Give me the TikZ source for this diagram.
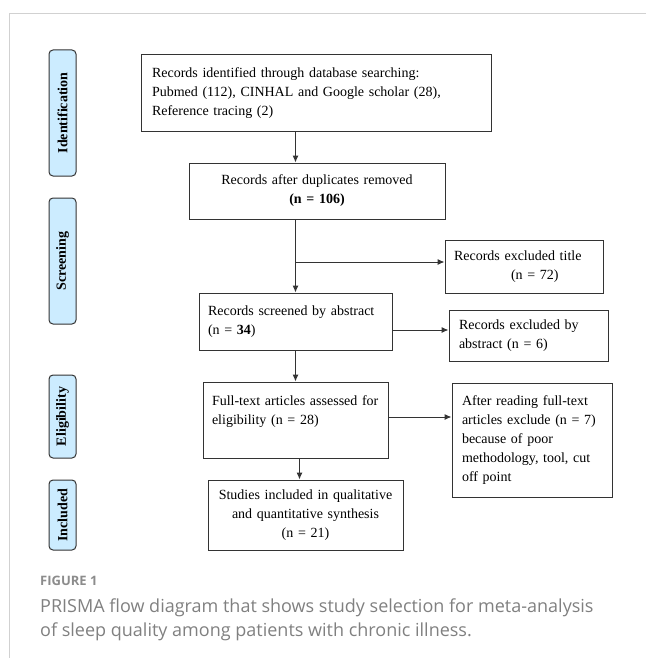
\documentclass[tikz,border=0pt]{standalone}
\usepackage{fontspec}
\setmainfont{Liberation Serif}
\newfontfamily\capfont{Open Sans}
\usetikzlibrary{arrows.meta, positioning}
\definecolor{stagefill}{HTML}{CCECFF}
\definecolor{capgray}{HTML}{808080}

\begin{document}
\begin{tikzpicture}[x=1pt,y=-1pt,>={Latex[length=7pt,width=6pt]},
 main node/.style={draw=black!80,line width=1pt,inner xsep=10pt,inner ysep=0pt,
   font=\fontsize{14}{19}\selectfont},
 stage node/.style={draw=black!80,line width=1pt,rounded corners=4pt,fill=stagefill,
   rotate=90,minimum height=27pt,inner sep=0pt,font=\fontsize{14}{16}\selectfont\bfseries},
 link/.style={->,draw=black!80,line width=1pt}]
  \useasboundingbox (0,0) rectangle (646,658);
  \draw[black!18,line width=1pt] (646,14) -- (9,14) -- (9,658);

  % stages
  \node[stage node,minimum width=126pt] (ident) at (62.5,113) {Identification};
  \node[stage node,minimum width=126pt] (screen) at (62.5,261) {Screening};
  \node[stage node,minimum width=83pt] (elig) at (62.5,416.5) {Eligibility};
  \node[stage node,minimum width=70pt] (incl) at (62.5,515) {Included};

  % boxes
  \node[main node,text width=328pt,align=left,minimum height=76pt,inner xsep=11pt] (found) at (316,93)
    {Records identified through database searching:\\Pubmed (112), CINHAL and Google scholar (28),\\Reference tracing (2)};
  \node[main node,text width=236pt,align=center,minimum height=56pt] (dedup) at (317,191)
    {Records after duplicates removed\\\textbf{(n = 106)}};
  \node[main node,text width=140pt,align=left,minimum height=53pt,inner xsep=9pt] (extitle) at (524,266.5)
    {Records excluded title\\\hspace*{57pt}(n = 72)};
  \node[main node,text width=175pt,align=left,minimum height=57pt,inner xsep=9pt] (screened) at (295.5,321.5)
    {Records screened by abstract\\(n = \textbf{34})};
  \node[main node,text width=139pt,align=left,minimum height=51pt] (exabs) at (528.5,335.5)
    {Records excluded by\\abstract (n = 6)};
  \node[main node,text width=167pt,align=left,minimum height=76pt,inner xsep=9pt] (fulltext) at (295.5,420)
    {Full-text articles assessed for\\eligibility (n = 28)\\~};
  \node[main node,text width=140pt,align=left,minimum height=114pt] (exfull) at (532,440)
    {After reading full-text\\articles exclude (n = 7)\\because of poor\\methodology, tool, cut\\off point};
  \node[main node,text width=181pt,align=center,minimum height=70pt,inner xsep=7pt] (studies) at (305.5,515)
    {Studies included in qualitative\\and quantitative synthesis\\(n = 21)};

  \coordinate (split) at (295.5,262);

  \foreach \s/\t in {found/dedup, dedup/screened, screened/fulltext} {
   \draw[link] (\s.south -| screened) -- (\t.north -| screened);}
  \draw[link] ([xshift=4pt]fulltext.south) -- ([xshift=4pt]fulltext.south |- studies.north);
  \draw[link] (split) -- (split -| extitle.west);
  \draw[link] ([yshift=-8.5pt]screened.east) -- ([yshift=-8.5pt]screened.east -| exabs.west);
  \draw[link] ([yshift=3pt]fulltext.east) -- ([yshift=3pt]fulltext.east -| exfull.west);

  % caption
  \node[anchor=base west,inner sep=0pt,text=black!45,font=\capfont\bfseries\fontsize{13}{16}\selectfont] (figlabel) at (40,585) {FIGURE 1};
  \node[anchor=north west,inner sep=0pt,align=left,text=capgray,font=\capfont\fontsize{18}{24}\selectfont] (caption) at (40,599)
    {PRISMA flow diagram that shows study selection for meta-analysis\\of sleep quality among patients with chronic illness.};
\end{tikzpicture}
\end{document}
